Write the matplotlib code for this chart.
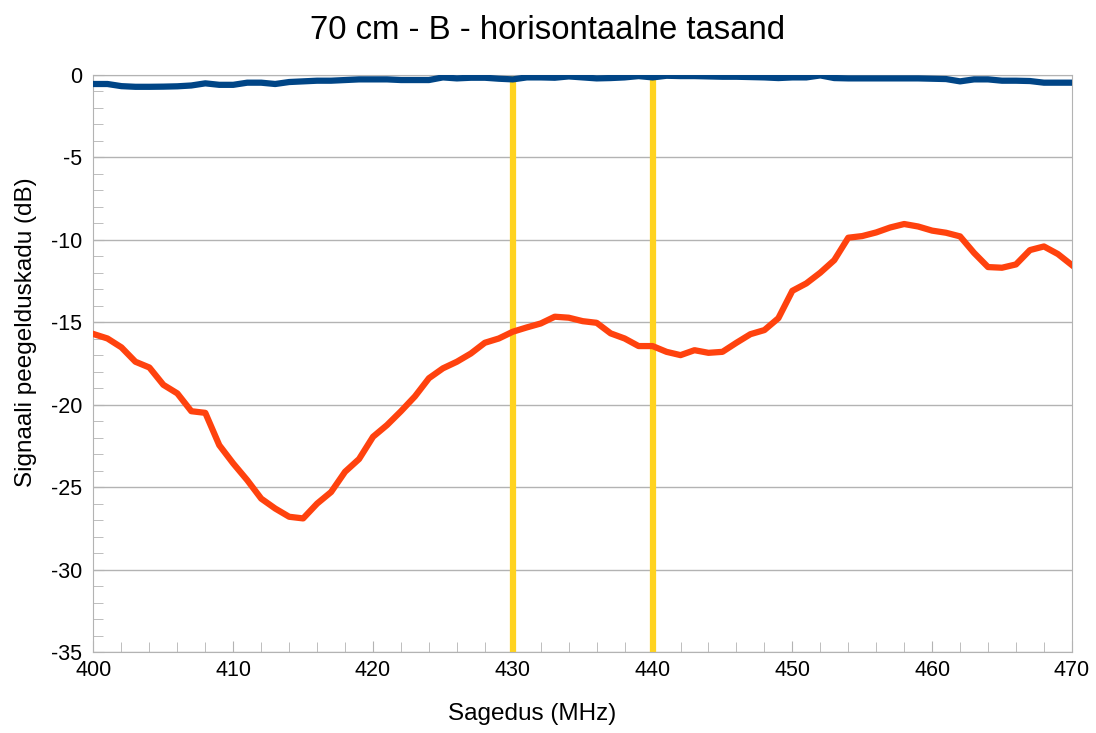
import numpy as np
import matplotlib.pyplot as plt
from matplotlib.ticker import MultipleLocator, FuncFormatter

plt.rcParams['font.family'] = ['Liberation Sans', 'DejaVu Sans']
plt.rcParams['axes.unicode_minus'] = False

freq = np.arange(400, 471)  # MHz, one point per MHz

# horisontaalne (blue) - near 0 dB
s_blue = [-0.56, -0.56, -0.69, -0.73, -0.73, -0.72, -0.70, -0.65, -0.52, -0.61,
          -0.61, -0.48, -0.48, -0.56, -0.44, -0.40, -0.36, -0.36, -0.32, -0.28,
          -0.28, -0.28, -0.32, -0.32, -0.32, -0.16, -0.22, -0.18, -0.18, -0.24,
          -0.28, -0.16, -0.16, -0.18, -0.10, -0.16, -0.22, -0.20, -0.16, -0.08,
          -0.16, -0.06, -0.08, -0.08, -0.10, -0.12, -0.12, -0.14, -0.16, -0.20,
          -0.16, -0.16, -0.04, -0.20, -0.22, -0.22, -0.22, -0.22, -0.22, -0.22,
          -0.24, -0.26, -0.40, -0.28, -0.28, -0.36, -0.36, -0.38, -0.48, -0.48,
          -0.48]

# orange curve
s_red = [-15.72, -15.99, -16.53, -17.40, -17.75, -18.80, -19.32, -20.40, -20.50, -22.46,
         -23.57, -24.58, -25.70, -26.30, -26.80, -26.90, -26.00, -25.30, -24.07, -23.30,
         -21.95, -21.24, -20.40, -19.50, -18.40, -17.80, -17.40, -16.90, -16.25, -15.99,
         -15.58, -15.32, -15.08, -14.67, -14.73, -14.94, -15.04, -15.68, -15.99, -16.45,
         -16.45, -16.80, -17.00, -16.70, -16.86, -16.80, -16.25, -15.73, -15.48, -14.76,
         -13.10, -12.65, -12.00, -11.24, -9.88, -9.78, -9.56, -9.26, -9.05, -9.20,
         -9.45, -9.58, -9.80, -10.80, -11.66, -11.70, -11.50, -10.63, -10.41, -10.87,
         -11.54]

markers = [430, 440]  # band edges

fig = plt.figure(figsize=(10.96, 7.33), dpi=100)
ax = fig.add_axes([0.0853, 0.1105, 0.8927, 0.7875])

ax.grid(axis='y', color='#b3b3b3', linewidth=1)
ax.set_axisbelow(True)

for m in markers:
    ax.axvline(m, color='#ffd320', linewidth=4.5, zorder=2)
ax.plot(freq, s_blue, color='#004586', linewidth=4.5, zorder=3)
ax.plot(freq, s_red, color='#ff420e', linewidth=4.5, zorder=3)

ax.set_xlim(400, 470)
ax.set_ylim(-35, 0)
ax.xaxis.set_major_locator(MultipleLocator(10))
ax.xaxis.set_minor_locator(MultipleLocator(2))
ax.yaxis.set_major_locator(MultipleLocator(5))
ax.yaxis.set_minor_locator(MultipleLocator(1))
ax.yaxis.set_major_formatter(FuncFormatter(lambda v, p: '%d' % v))
ax.tick_params(which='both', direction='in', color='#b3b3b3', labelsize=15.5)
ax.tick_params(which='major', length=8)
ax.tick_params(which='minor', length=7)
ax.tick_params(axis='x', pad=6)
ax.tick_params(axis='y', pad=8)
for sp in ax.spines.values():
    sp.set_color('#b3b3b3')

fig.text(0.5, 0.958, '70 cm - B - horisontaalne tasand', fontsize=23.7,
         ha='center', va='center')
ax.set_xlabel('Sagedus (MHz)', fontsize=17.5, labelpad=18)
ax.set_ylabel('Signaali peegelduskadu (dB)', fontsize=17.5, labelpad=10)
ax.xaxis.set_label_coords(0.448, -0.089)
ax.yaxis.label.set_y(0.554)

fig.savefig('out.png', dpi=100)
